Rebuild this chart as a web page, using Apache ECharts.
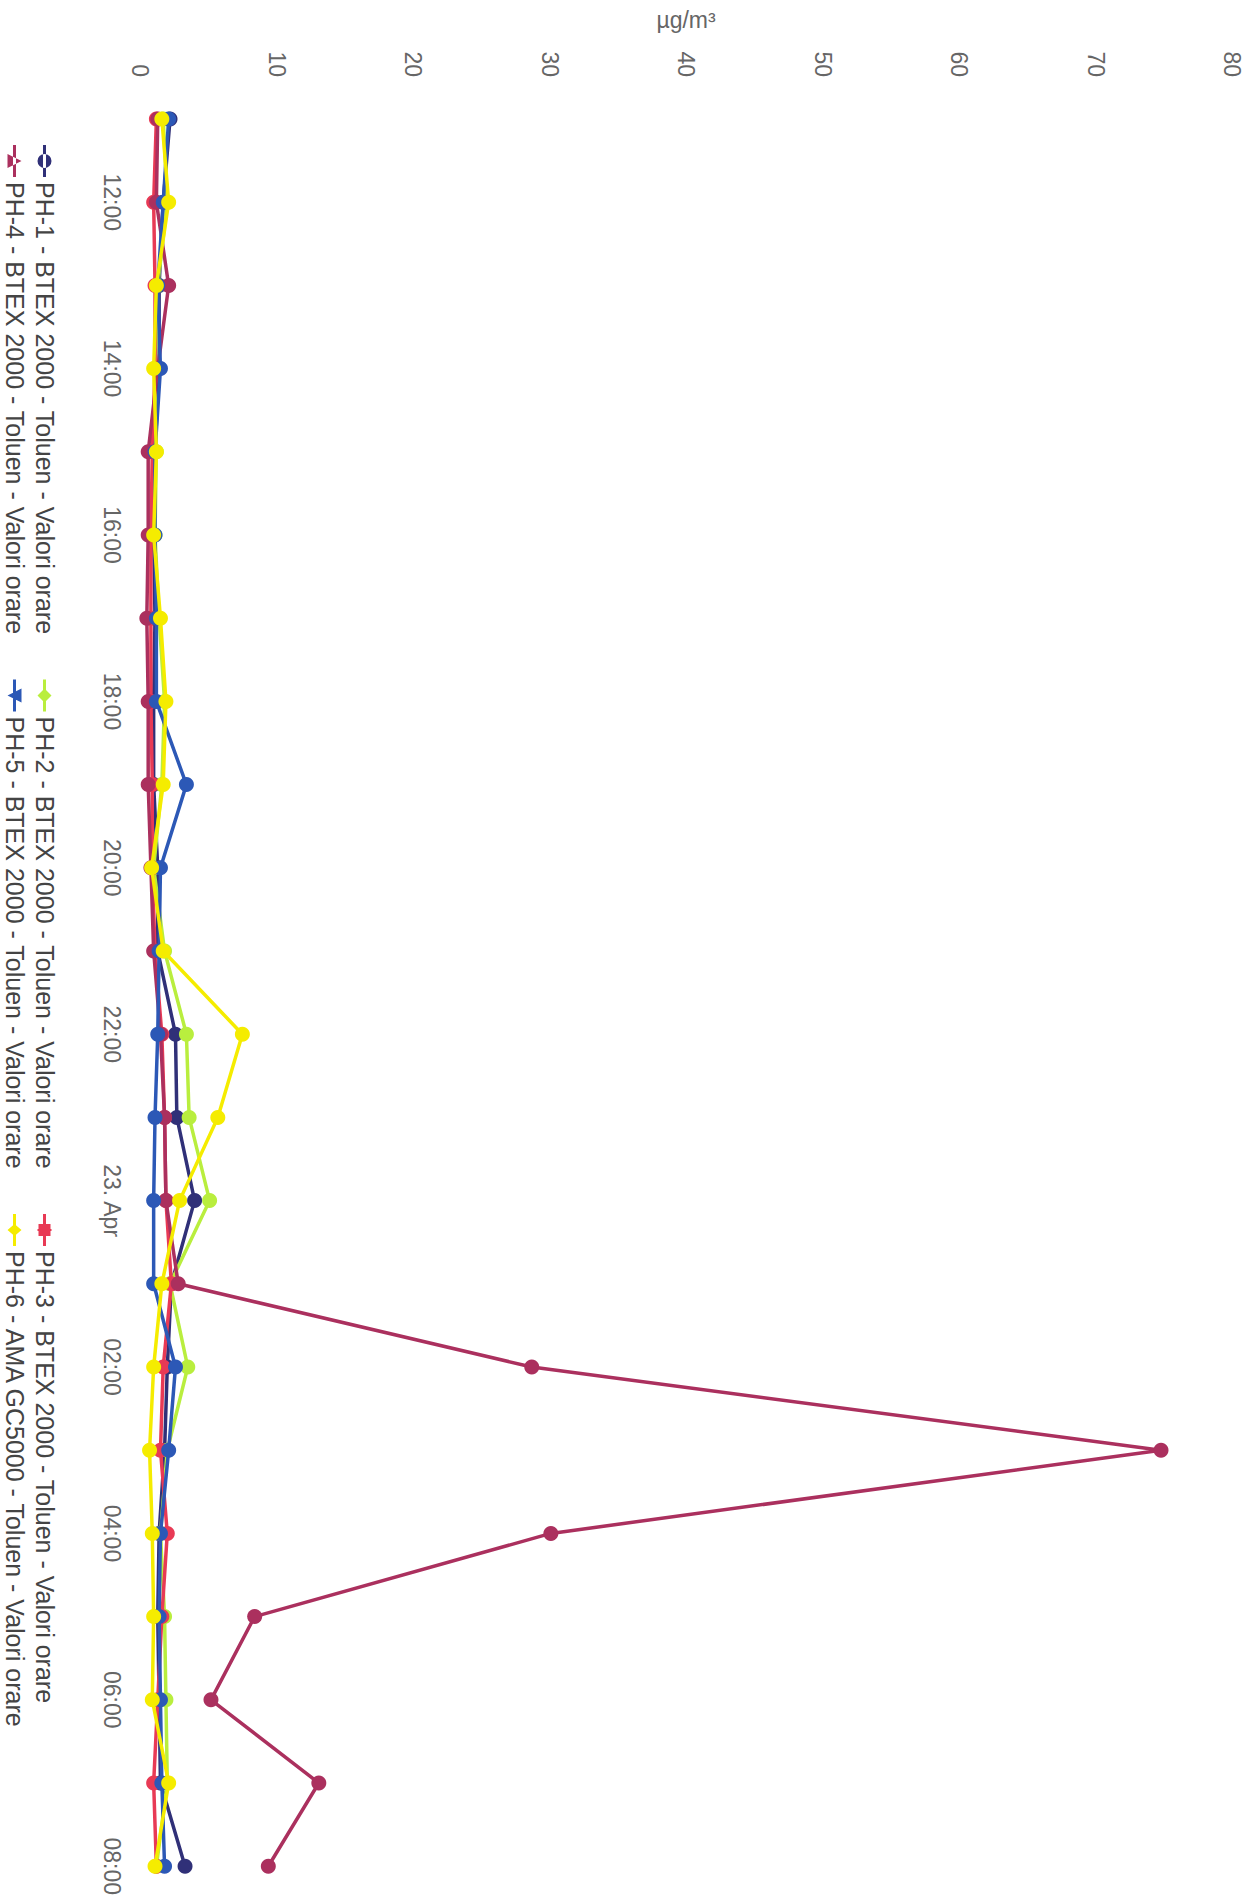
<!DOCTYPE html>
<html>
<head>
<meta charset="utf-8">
<script src="https://cdn.jsdelivr.net/npm/echarts@6/dist/echarts.min.js"></script>
<style>
html,body{margin:0;padding:0;background:#fff;overflow:hidden;width:1251px;height:1898px;}
#chart{position:absolute;left:0;top:0;width:1898px;height:1251px;transform-origin:0 0;transform:translateX(1251px) rotate(90deg);}
</style>
</head>
<body>
<div id="chart"></div>
<script>
// Hourly time categories (11:00 on 22 Apr to 08:00 on 23 Apr)
const categories = ['11:00','12:00','13:00','14:00','15:00','16:00','17:00','18:00','19:00','20:00','21:00','22:00','23:00','23. Apr','01:00','02:00','03:00','04:00','05:00','06:00','07:00','08:00'];
const seriesNames = [
  'PH-1 - BTEX 2000 - Toluen - Valori orare',
  'PH-2 - BTEX 2000 - Toluen - Valori orare',
  'PH-3 - BTEX 2000 - Toluen - Valori orare',
  'PH-4 - BTEX 2000 - Toluen - Valori orare',
  'PH-5 - BTEX 2000 - Toluen - Valori orare',
  'PH-6 - AMA GC5000 - Toluen - Valori orare'
];
const ph1 = [2.2,1.7,1.4,1.4,1.1,1.0,1.1,1.0,1.0,1.3,1.3,2.6,2.7,4.0,2.3,2.0,1.8,1.4,1.3,1.4,1.5,3.3];
const ph2 = [1.7,2.0,1.3,1.1,1.2,1.1,1.4,1.8,1.6,1.0,1.8,3.4,3.6,5.1,2.2,3.5,2.0,1.5,1.8,1.9,2.0,1.2];
const ph3 = [1.2,1.0,1.1,1.1,0.9,0.8,0.8,0.8,0.9,0.9,1.1,1.6,1.8,1.9,2.3,1.7,1.5,2.0,1.6,1.3,1.0,1.2];
const ph4 = [1.3,1.2,2.1,1.3,0.6,0.6,0.5,0.6,0.6,0.8,1.0,1.5,1.8,1.9,2.8,28.7,74.8,30.1,8.4,5.2,13.1,9.4];
const ph5 = [2.1,1.7,1.3,1.5,1.1,1.1,1.2,1.2,3.4,1.5,1.4,1.3,1.1,1.0,1.0,2.6,2.1,1.5,1.4,1.5,1.6,1.8];
const ph6 = [1.6,2.1,1.2,1.0,1.2,1.0,1.5,1.9,1.7,0.85,1.7,7.5,5.7,2.9,1.6,1.0,0.7,0.9,1.0,0.9,2.1,1.1];
const yTicks = {min:0, max:80, interval:10};
const unitLabel = 'µg/m³';

const colors = ['#303078','#b9ee3e','#e83a55','#ab305e','#2c58b6','#f5ec00'];
const allData = [ph1, ph2, ph3, ph4, ph5, ph6];

const line = 'M0,5.5 L32,5.5 L32,8.5 L0,8.5 Z ';
const icons = [
  'path://' + line + 'M9,7 A7,7 0 1,0 23,7 A7,7 0 1,0 9,7 Z',
  'path://' + line + 'M16,0 L23,7 L16,14 L9,7 Z',
  'path://' + line + 'M10,1 L22,1 L22,13 L10,13 Z M15,0 L17,0 L17,14 L15,14 Z',
  'path://' + line + 'M9,14 L23,14 L16,0 Z',
  'path://' + line + 'M9,0 L23,0 L16,14 Z',
  'path://' + line + 'M16,0 L22,7 L16,14 L10,7 Z'
];

const chart = echarts.init(document.getElementById('chart'), null, {renderer:'svg', width:1898, height:1251});
const font = '"Liberation Sans", Arial, Helvetica, sans-serif';
const legendCommon = {
  orient:'horizontal', left:140, itemWidth:32, itemHeight:14, itemGap:45,
  textStyle:{fontFamily:font, fontSize:25, color:'#444'}, selectedMode:false
};
chart.setOption({
  backgroundColor:'#fff',
  animation:false,
  color: colors,
  grid:{left:119, width:1766, top:19, height:1092, containLabel:false},
  legend:[
    Object.assign({top:1189, data:[0,1,2].map(i=>({name:seriesNames[i], icon:icons[i]}))}, legendCommon),
    Object.assign({top:1219, data:[3,4,5].map(i=>({name:seriesNames[i], icon:icons[i]}))}, legendCommon)
  ],
  xAxis:{
    type:'category', data:categories, boundaryGap:false,
    axisLine:{show:false}, axisTick:{show:false}, splitLine:{show:false},
    axisLabel:{interval:function(i){return i%2===1;}, margin:17, color:'#666', fontSize:23, fontFamily:font}
  },
  yAxis:{
    type:'value', min:yTicks.min, max:yTicks.max, interval:yTicks.interval,
    name:unitLabel, nameLocation:'middle', nameGap:88,
    nameTextStyle:{color:'#666', fontSize:23, fontFamily:font},
    axisLine:{show:false}, axisTick:{show:false}, splitLine:{show:false},
    axisLabel:{margin:42, color:'#666', fontSize:23, fontFamily:font}
  },
  series: allData.map((d,i)=>({
    name:seriesNames[i], type:'line', data:d,
    symbol:'circle', symbolSize:15, showSymbol:true,
    lineStyle:{width:3.5, color:colors[i]},
    itemStyle:{color:colors[i]},
    z: 2 + i
  }))
});
</script>
</body>
</html>
